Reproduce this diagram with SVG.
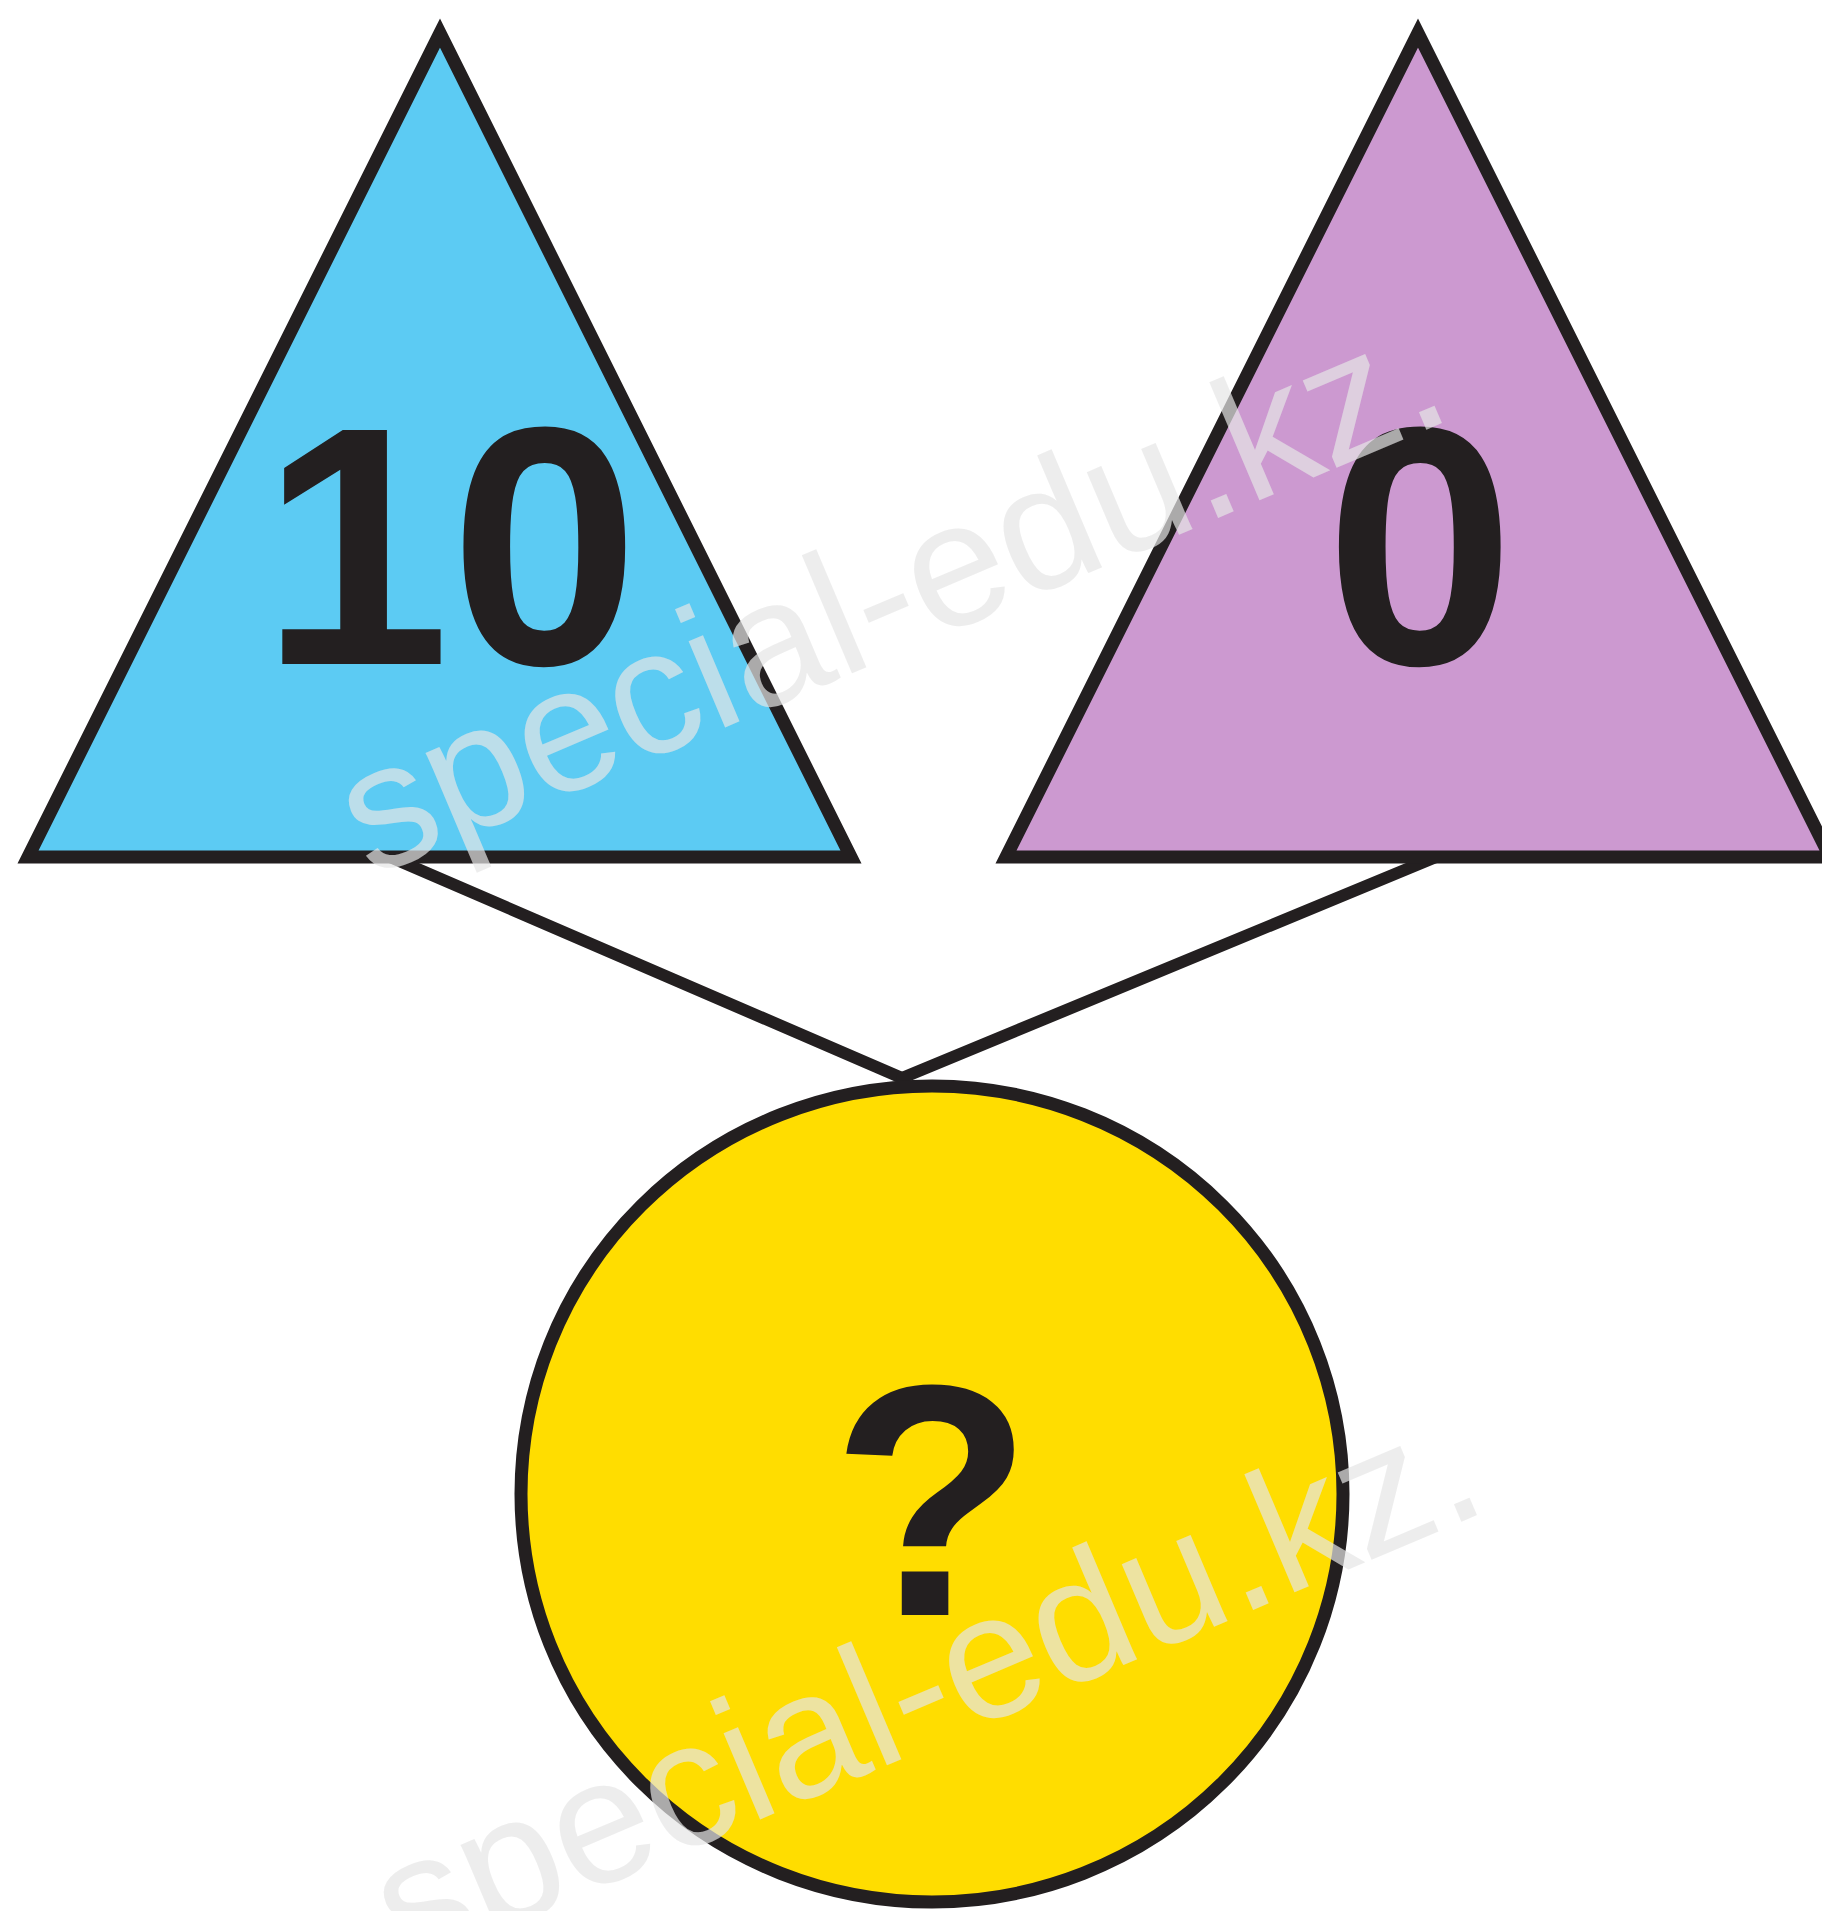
<svg xmlns="http://www.w3.org/2000/svg" width="1822" height="1911" viewBox="0 0 1822 1911">
<style>
.shape{stroke:#231f20;stroke-width:13;stroke-linejoin:miter;stroke-miterlimit:10}
.num{font-family:"Liberation Sans",Arial,sans-serif;font-weight:bold;fill:#231f20;text-anchor:middle}
.link{stroke:#231f20;stroke-width:12;fill:none;stroke-linecap:round}
.wm{font-family:"Liberation Sans",Arial,sans-serif;font-size:177px;fill:#e6e6e6;fill-opacity:0.7}
</style>
<rect width="1822" height="1911" fill="#ffffff"/>
<g id="connectors">
<line class="link" x1="390" y1="857" x2="902" y2="1078"/>
<line class="link" x1="1436" y1="857" x2="902" y2="1078"/>
</g>
<g id="node-left">
<polygon class="shape" fill="#5ccbf3" points="440,33 28,857 851,857"/>
<text class="num" x="450" y="664" font-size="340">10</text>
</g>
<g id="node-right">
<polygon class="shape" fill="#cc99d0" points="1418,33 1006,857 1830,857"/>
<text class="num" x="1420" y="664" font-size="340">0</text>
</g>
<g id="node-result">
<ellipse class="shape" fill="#ffdd00" cx="932" cy="1494" rx="411" ry="408" stroke-width="11"/>
<text class="num" x="932" y="1615" font-size="330">?</text>
</g>
<g id="watermarks">
<text class="wm" transform="translate(370,878) rotate(-23)">special-edu.kz.</text>
<text class="wm" transform="translate(405,1970) rotate(-23)" font-size="190">special-edu.kz.</text>
</g>
</svg>
